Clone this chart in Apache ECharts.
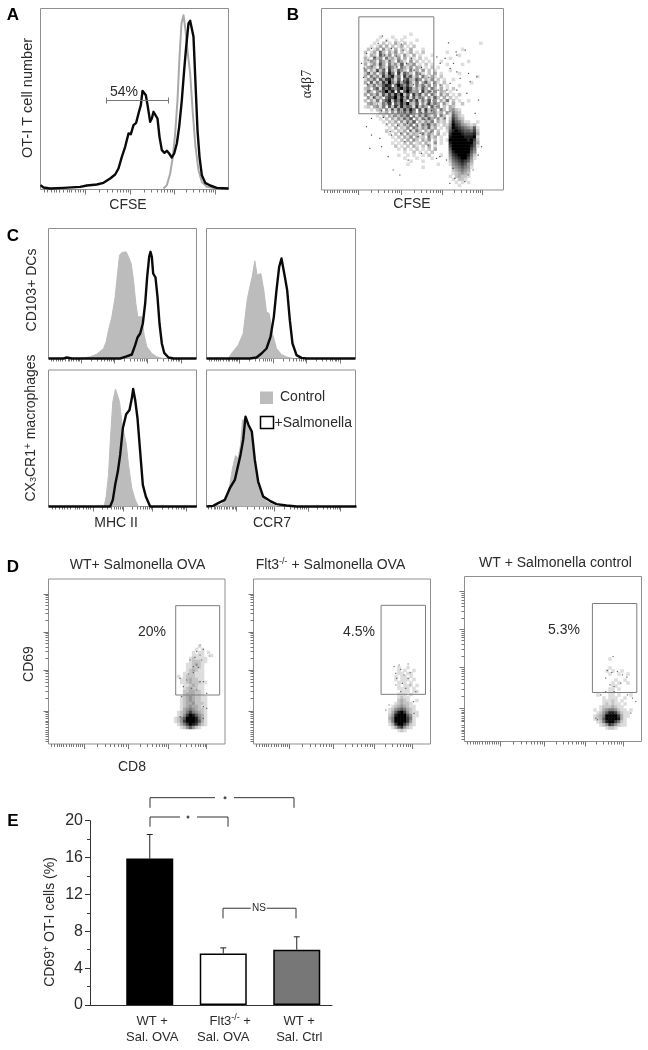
<!DOCTYPE html>
<html><head><meta charset="utf-8">
<style>html,body{margin:0;padding:0;background:#fff}#c{width:648px;height:1050px;filter:blur(0.45px)}</style>
<script src="https://cdn.jsdelivr.net/npm/echarts@6/dist/echarts.min.js"></script>
</head><body><div id="c"></div>
<script>
// ---------- Histogram values: [channel, count] ----------
const aBlack=[[0,10],[9,3],[29,0],[69,2],[119,5],[139,9],[169,12],[189,17],[209,30],[224,42],[234,60],[244,95],[254,125],[264,165],[271,163],[279,190],[287,197],[294,225],[301,250],[306,293],[311,297],[316,280],[322,245],[329,200],[334,210],[339,230],[345,235],[351,210],[357,155],[364,115],[372,107],[379,113],[386,105],[394,93],[401,105],[409,135],[416,185],[424,265],[431,355],[437,425],[444,495],[449,503],[454,503],[459,455],[465,315],[471,175],[477,95],[484,40],[494,17],[509,9],[529,2],[564,0]];
const aGray=[[369,0],[379,10],[389,45],[397,95],[404,165],[411,265],[417,395],[423,495],[429,520],[435,475],[442,405],[449,345],[457,225],[465,125],[474,55],[484,20],[499,5],[529,0]];
const cTLgray=[[95,0],[125,5],[145,13],[165,30],[173,50],[180,85],[190,125],[200,185],[207,255],[213,310],[220,318],[233,320],[240,305],[248,285],[255,235],[262,165],[268,125],[280,125],[287,70],[295,35],[310,15],[325,5],[345,0]];
const cTLblack=[[0,0],[45,0],[55,3],[70,0],[215,0],[230,5],[250,12],[260,40],[267,63],[275,75],[283,105],[290,165],[296,245],[302,305],[306,320],[310,305],[314,255],[321,243],[327,185],[333,105],[340,45],[347,17],[360,3],[375,0],[444,0]];
const cTRgray=[[65,0],[75,15],[95,40],[110,75],[122,175],[130,215],[137,245],[145,293],[152,250],[163,255],[172,205],[180,140],[188,135],[198,75],[210,30],[225,12],[240,5],[260,0]];
const cTRblack=[[0,0],[130,0],[150,3],[165,15],[180,30],[192,65],[202,125],[210,205],[218,275],[225,300],[230,300],[235,245],[242,205],[250,115],[258,45],[270,10],[285,2],[300,0],[447,0]];
const cBLgray=[[167,0],[173,30],[180,95],[187,225],[193,315],[201,353],[207,353],[213,315],[221,245],[233,190],[240,125],[250,55],[260,20],[270,0]];
const cBLblack=[[0,0],[185,0],[193,20],[200,65],[208,105],[215,155],[223,235],[233,277],[243,290],[250,325],[254,353],[260,320],[267,265],[275,165],[283,65],[292,30],[305,0],[445,0]];
const cBRgray=[[20,0],[45,5],[60,25],[70,65],[78,115],[87,153],[95,145],[102,185],[108,260],[115,260],[122,245],[135,215],[145,125],[160,45],[180,15],[210,0]];
const cBRblack=[[0,0],[20,2],[35,10],[55,20],[70,55],[85,80],[102,155],[110,200],[117,270],[121,273],[126,245],[136,225],[145,140],[155,75],[170,30],[190,17],[210,7],[240,3],[270,0],[450,0]];

// ---------- Density (0 = empty, 9 = solid black), rows from the top ----------
const bDensity=[
"0000000000000001000000000000000000000000","0000010001000100000000000000000000000000","0000100100101000010000000000000000000000","0001002010310201000000000000000000000010",
"0010130302013010200000000000000000000000","0201304120302103000100000000000010000000","2013052031402013010200000001000000000000","1032063140320410301000100000000100000000",
"3105240523140302102010000000100000000000","2143053142053104020101000100000000100000","3024163052416032401020100001000010000000","1342053164205314032010201000000000000000",
"4031625073164205130402010000100000000000","2514036285071642053102030100000100000000","3052417368250736140520310200000000000100","1425063784160573264031402010010000000000",
"3061527495273684150362041020000000010000","0425136870596473052514030201000100000000","2304617586479586241630520301020000000000","1520436958071695340725140320100000000000",
"3042516374859260736140520413010200000000","0415230576948371625304162030201000000000","2031504682759406371526040315020100100000","0342015370648593260417253041030020000000",
"1203415062738465172530614020320000000000","0010230415263748506172430520342100000000","0000021304152637405162341304153200000000","0000102031425360415263140520164210000000",
"0000010203142536041526304130275320000000","0000001021304152603142503120386531100100","0000000102031425041536241021497643212000","0000000010302140531426130102598765436100",
"0000000201021304152031402001689876657200","0000000010203041320514203010799987778300","0000000001020314031205130100899998889100","0000000000102030420314020101999999897200",
"0000000001010203012031040100899999996300","0000000000201020310203010000799999986100","0000000000010201020102030000699999975000","0000000000000100201010200000589999964000",
"0000000000010010100102000100478999852000","0000000000000100010000100000367899741000","0000000000000001000100000000256787630000","0000000000000010000000001000145676420000",
"0000000000000000000100000000034565410000","0000000000000000000000000000023454300000","0000000000000000000000000000012343200000","0000000000000000000000000000102322100000",
"0000000000000000000000000000010221000000","0000000000000000000000000000001010100000","0000000000000000000000000000000100000000"];
const d1Density=["000000000100000","000000001010000","000000010110100","000000011110010","000000121111000","000000122211000","000001123210000","000001122210000","000001232110000","000011221110000","001012221110000","000112322110000","000112322211000","000011232110000","000012322110000","000022332210000","000023332210000","000123432211000","000123432211000","000123342221000","000123433211000","000134543221000","001235754321000","001247986431000","012469998531000","012479998631000","001357987421000","000124642100000"];
const d2Density=["000000000000000","000000000000000","000000000000000","000000000000000","000000000000000","000000000000000","000000000000000","000000100100000","000000101001000","000000110110000","000001011010000","000001011101000","000000111010000","000000101110100","000000111101000","000000011101100","000000111010000","000000121100000","000000232100100","000001232210000","000012343211000","000124565321000","000136897421100","000248999641100","000359999751000","000259999741000","000137997521000","000013674210000","000000121000000"];
const d3Density=["000000000000000","000000000000000","000000000000000","000000000000000","000000100000000","000000000000000","000000000000000","000000100000000","000001010010000","000000100100100","000000000000000","000000001001000","000000010100100","000000011000000","000000110100000","000000110000000","001000110100010","000010111001000","000011121010000","000012121101000","000122232110000","010134554211010","001246887421100","012359999731100","012369999831000","001258997521000","000124764211000","000001221000000"];

// ---------- Individual dots: [channel, channel] ----------
const bDots=[[183,462],[170,440],[195,448],[240,438],[150,425],[210,425],[175,415],[245,420],[135,410],[190,405],[160,398],[225,402],[270,395],[140,390],[120,380],[205,388],[175,378],[255,380],[300,368],[128,366],[152,372],[188,362],[226,370],[278,360],[144,352],[168,356],[206,346],[236,352],[262,340],[296,348],[126,338],[158,336],[182,330],[214,334],[246,328],[284,330],[322,338],[138,318],[170,316],[194,312],[224,318],[256,310],[276,316],[310,312],[336,320],[146,298],[176,296],[206,300],[238,292],[266,298],[298,290],[328,296],[350,300],[156,278],[186,282],[216,274],[246,280],[272,270],[304,276],[334,268],[168,258],[198,262],[228,254],[258,260],[288,252],[316,258],[344,250],[180,238],[212,242],[240,234],[268,240],[300,232],[330,238],[186,218],[216,222],[248,214],[278,220],[310,212],[340,216],[196,198],[228,194],[258,200],[288,192],[318,198],[206,176],[238,170],[266,178],[296,170],[328,174],[145,125],[180,130],[200,100],[215,60],[235,45],[260,90],[300,110],[345,95],[355,100],[320,135],[290,160],[250,145],[210,165],[175,155],[150,165],[135,190],[150,215],[370,215],[385,235],[381,442],[404,415],[431,420],[406,405],[371,395],[346,400],[356,380],[386,365],[396,380],[441,350],[466,340],[446,325],[416,335],[406,355],[471,270],[461,230],[436,290],[406,300],[386,320],[376,300],[356,315],[385,20],[400,35],[430,25],[440,45],[395,65],[375,90],[455,60],[470,105],[480,130]];
const d1Dots=[[455,297],[465,284],[445,277],[455,267],[483,264],[440,260],[460,252],[425,252],[445,237],[435,232],[450,230],[420,210],[435,214],[395,197],[455,187],[415,192],[465,187],[405,172],[445,162],[430,167],[475,152],[400,142],[465,112],[475,107],[395,82],[465,77]];
const d2Dots=[[436,237],[463,240],[421,232],[441,224],[426,212],[469,214],[451,207],[429,197],[463,197],[446,182],[469,177],[426,177],[456,167],[486,157],[441,157],[479,127],[481,92],[396,102],[406,117]];
const d3Dots=[[445,255],[428,213],[441,207],[458,210],[473,200],[486,193],[423,190],[448,165],[436,170],[468,175],[423,150],[448,150],[408,140],[503,130],[488,140],[398,65],[393,70],[498,85],[513,120]];

// ---------- Gates [xMin, xMax, yMin, yMax] ----------
const bGate=[112,337,229,520], d1Gate=[382,514,147,415], d2Gate=[382,515,149,416], d3Gate=[383,516,147,414];

// ---------- Bar panel ----------
const barCategories=['{p|WT +}\n{p|Sal. OVA}','{f|Flt3}{s|-/-} +\nSal. OVA','{p|WT +}\n{p|Sal. Ctrl}'];
const barValues=[15.9,5.6,6.0];
const barUpper=[18.5,6.2,7.4];
const barColors=['#000000','#ffffff','#777777'];
const barTicks=[0,4,8,12,16,20];

const INK='#2b2b2b', BOX='#8f8f8f', TICK='#777777', FONT='"Liberation Sans",Arial,sans-serif';
const cluster=[.075,.15,.25,.3,.35,.425,.5,.6,.65,.7,.775,.85,.9,.95,1];
function tickSet(decades,axisMax){
  const major=[],minor=[];
  cluster.forEach(f=>minor.push(f*decades[0]*axisMax));
  decades.forEach((d,i)=>{
    major.push(d*axisMax);
    if(i<decades.length-1){[2,3,4,5,6,7,8,9].forEach(k=>minor.push((d+(decades[i+1]-d)*Math.log10(k))*axisMax));}
  });
  return {major,minor};
}
const grids=[],xAxes=[],yAxes=[],series=[],heatSeries=[];
function valueAxis(gi,max,min,pos,custom,len){
  return {type:'value',gridIndex:gi,min:min,max:max,position:pos,show:true,splitLine:{show:false},
    axisLine:{show:false,onZero:false},axisLabel:{show:false},
    axisTick:{show:!!custom,length:len,inside:false,customValues:custom||[],lineStyle:{color:TICK,width:1}}};
}
function panel(box,xMax,yMax,xDec,yDec,yMin){
  const g=grids.length;
  grids.push({left:box[0],top:box[1],width:box[2],height:box[3],show:true,borderColor:BOX,borderWidth:1,backgroundColor:'transparent',containLabel:false});
  const xi=xAxes.length, yi=yAxes.length;
  const xt=tickSet(xDec,xMax);
  xAxes.push(valueAxis(g,xMax,0,'bottom',xt.major,5));
  xAxes.push(valueAxis(g,xMax,0,'bottom',xt.minor,3));
  const yt=yDec?tickSet(yDec,yMax):null;
  yAxes.push(valueAxis(g,yMax,yMin||0,'left',yt?yt.major:null,5));
  if(yt) yAxes.push(valueAxis(g,yMax,yMin||0,'left',yt.minor,3));
  return {g,xi,yi};
}
function line(p,data,color,width,z){
  series.push({type:'line',xAxisIndex:p.xi,yAxisIndex:p.yi,data:data,showSymbol:false,symbol:'none',clip:false,silent:true,z:z||5,
    lineStyle:{color:color,width:width,cap:'butt',join:'round'}});
}
function area(p,data){
  series.push({type:'line',xAxisIndex:p.xi,yAxisIndex:p.yi,data:data,showSymbol:false,symbol:'none',clip:true,silent:true,z:3,
    lineStyle:{color:'#bcbcbc',width:1},areaStyle:{color:'#bcbcbc',opacity:1}});
}
function gate(p,r){line(p,[[r[0],r[2]],[r[1],r[2]],[r[1],r[3]],[r[0],r[3]],[r[0],r[2]]],'#7d7d7d',1,6);}
function dots(p,data,size,color){
  series.push({type:'scatter',xAxisIndex:p.xi,yAxisIndex:p.yi,data:data,symbol:'rect',symbolSize:size,silent:true,z:4,
    itemStyle:{color:color}});
}
function density(p,rows,cols,nRows,startCol,startRow){
  const xi=xAxes.length, yi=yAxes.length, names=n=>Array.from({length:n},(_,i)=>String(i));
  xAxes.push({type:'category',gridIndex:p.g,data:names(cols),show:false});
  yAxes.push({type:'category',gridIndex:p.g,data:names(nRows),show:false,inverse:true});
  const data=[];
  rows.forEach((row,r)=>{[...row].forEach((ch,c)=>{if(ch!=='0')data.push([c+startCol,r+startRow,+ch]);});});
  heatSeries.push(series.length);
  series.push({type:'heatmap',xAxisIndex:xi,yAxisIndex:yi,data:data,silent:true,z:2,progressive:0,itemStyle:{borderWidth:0}});
}

const xdC=[.22,.446,.67,.896];
const BLK='#0a0a0a', BW=2.4;
// A
const pA=panel([40.5,8.5,188,181],564,540,[.237,.48,.71,.93],null,-3);
line(pA,aGray,'#a9a9a9',2,4);
line(pA,aBlack,BLK,BW,5);
line(pA,[[198,264],[384,264]],'#777',1,6);
line(pA,[[198,255],[198,273]],'#777',1,6);
line(pA,[[384,255],[384,273]],'#777',1,6);
// B
const pB=panel([321.5,8.5,182,181.5],546,545,[.2,.44,.665,.885]);
density(pB,bDensity,60,60,14,8);
dots(pB,bDots,1.2,'#222');
gate(pB,bGate);
// C
const pC1=panel([48.5,228.5,148,130],444,390,xdC);
area(pC1,cTLgray); line(pC1,cTLblack,BLK,BW);
const pC2=panel([206.5,228.5,149,130],447,390,xdC);
area(pC2,cTRgray); line(pC2,cTRblack,BLK,BW);
const pC3=panel([48.5,370,148,136.5],444,410,[.3,.505,.7,.93]);
area(pC3,cBLgray); line(pC3,cBLblack,BLK,BW);
const pC4=panel([206.5,370,149,136.5],447,410,[.2,.455,.68,.9]);
area(pC4,cBRgray); line(pC4,cBRblack,BLK,BW);
// D
const ydD=[.2,.45,.68,.91];
const xdD=[.2,.45,.68,.896];
const pD1=panel([48.5,579,176.5,165],530,495,xdD,ydD);
density(pD1,d1Density,59,55,41,22); dots(pD1,d1Dots,1.2,'#444'); gate(pD1,d1Gate);
const pD2=panel([253.5,579,177,165],530,495,xdD,ydD);
density(pD2,d2Density,59,55,42,22); dots(pD2,d2Dots,1.2,'#444'); gate(pD2,d2Gate);
const pD3=panel([464.5,576.5,177,165],530,495,xdD,ydD);
density(pD3,d3Density,59,55,42,23); dots(pD3,d3Dots,1.2,'#444'); gate(pD3,d3Gate);

// E: bars on a category axis, axis frame and brackets on a second, wider axis pair
const gBar=grids.length;
grids.push({left:113,top:820.7,width:220.5,height:184.3,show:false});
const xBar=xAxes.length, yBar=yAxes.length;
xAxes.push({type:'category',gridIndex:gBar,data:barCategories,axisLine:{show:false},axisTick:{show:false},
  axisLabel:{interval:0,margin:8,fontSize:13,lineHeight:16,fontFamily:FONT,color:INK,rich:{
    s:{fontSize:9,padding:[0,0,7,0],fontFamily:FONT,color:INK},
    f:{fontSize:13,padding:[0,0,0,14],fontFamily:FONT,color:INK},
    p:{fontSize:13,padding:[0,0,0,5],fontFamily:FONT,color:INK}}}});
yAxes.push({type:'value',gridIndex:gBar,min:0,max:20,show:false});
series.push({type:'bar',xAxisIndex:xBar,yAxisIndex:yBar,data:barValues.map((v,i)=>({value:v,itemStyle:{color:barColors[i]}})),barWidth:47,silent:true,z:3,
  itemStyle:{borderColor:'#000',borderWidth:1.5}});
series.push({type:'custom',xAxisIndex:xBar,yAxisIndex:yBar,silent:true,z:2,clip:false,
  data:barValues.map((v,i)=>[i,v,barUpper[i]]),
  encode:{x:0,y:[1,2]},
  renderItem:(params,api)=>{
    const lo=api.coord([api.value(0),api.value(1)]), hi=api.coord([api.value(0),api.value(2)]);
    const st={stroke:'#222',lineWidth:1,fill:'none'};
    return {type:'group',children:[
      {type:'line',shape:{x1:lo[0],y1:lo[1],x2:lo[0],y2:hi[1]},style:st},
      {type:'line',shape:{x1:lo[0]-3,y1:hi[1],x2:lo[0]+3,y2:hi[1]},style:st}]};
  }});
const gAxis=grids.length;
grids.push({left:90,top:820.7,width:242,height:184.3,show:false});
const xAx=xAxes.length, yAx=yAxes.length;
xAxes.push({type:'value',gridIndex:gAxis,min:0,max:242,axisLabel:{show:false},axisTick:{show:false},splitLine:{show:false},
  axisLine:{show:true,onZero:false,lineStyle:{color:'#333',width:1}}});
yAxes.push({type:'value',gridIndex:gAxis,min:0,max:20,interval:4,splitLine:{show:false},
  axisLine:{show:true,onZero:false,lineStyle:{color:'#333',width:1}},
  axisTick:{show:true,length:5,lineStyle:{color:'#333'}},
  minorTick:{show:true,splitNumber:2,length:3,lineStyle:{color:'#333'}},
  axisLabel:{fontSize:16,margin:7,fontFamily:FONT,color:INK,customValues:barTicks}});
const pE={g:gAxis,xi:xAx,yi:yAx};
const BR='#333';
line(pE,[[60,21.4],[60,22.5],[125,22.5]],BR,1);
line(pE,[[144,22.5],[204,22.5],[204,21.4]],BR,1);
line(pE,[[60,19.35],[60,20.4],[90,20.4]],BR,1);
line(pE,[[107,20.4],[138,20.4],[138,19.35]],BR,1);
line(pE,[[133,9.4],[133,10.5],[160.7,10.5]],BR,1);
line(pE,[[176.7,10.5],[206,10.5],[206,9.4]],BR,1);
series.push({type:'scatter',xAxisIndex:xAx,yAxisIndex:yAx,clip:false,silent:true,symbol:'circle',symbolSize:3,
  data:[[135,22.5],[98,20.4]],itemStyle:{color:'#222'}});

// Text
function T(text,x,y,o){o=o||{};
  return {type:'text',x:x,y:y,rotation:o.rot?Math.PI/2:0,silent:true,z:20,
    style:{text:text,fontFamily:o.font||FONT,fontSize:o.size||14,fontWeight:o.bold?'bold':'normal',fill:o.fill||INK,
      align:o.align||'center',verticalAlign:'middle',rich:o.rich}};
}
const supRich={s:{fontSize:9,padding:[0,0,7,0],fontFamily:FONT,fill:INK,color:INK},n:{fontSize:14,fontFamily:FONT,fill:INK,color:INK}};
const subRich={b:{fontSize:9,padding:[5,0,0,0],fontFamily:FONT,fill:INK,color:INK},n:{fontSize:14,fontFamily:FONT,fill:INK,color:INK},s:{fontSize:10,padding:[0,0,6,0],fontFamily:FONT,fill:INK,color:INK}};
const letter={size:17,bold:true,fill:'#000'};
const texts=[
  T('A',13,15,letter),T('B',293,15,letter),T('C',13,236,letter),T('D',13,567,letter),T('E',13,821,letter),
  T('OT-I T cell number',28,98,{rot:1,size:14.5}),T('CFSE',128,205),T('54%',124,92),
  T('α4β7',307,84,{rot:1,font:'"Liberation Serif","DejaVu Serif",serif'}),T('CFSE',412,204),
  T('CD103+ DCs',32,290,{rot:1}),
  T('{n|CX}{b|3}{n|CR1}{s|+}{n| macrophages}',31,428,{rot:1,rich:subRich}),
  T('MHC II',116,523),T('CCR7',272,523),
  T('Control',280,397,{align:'left'}),T('+Salmonella',274.5,423,{align:'left'}),
  {type:'rect',shape:{x:260,y:391.5,width:13,height:12.5},style:{fill:'#bcbcbc'},silent:true,z:20},
  {type:'rect',shape:{x:260.5,y:416.5,width:13,height:12},style:{fill:'#fff',stroke:'#000',lineWidth:1.5},silent:true,z:20},
  T('WT+ Salmonella OVA',137.5,565),
  T('{n|Flt3}{s|-/-}{n| + Salmonella OVA}',330.5,565,{rich:supRich}),
  T('WT + Salmonella control',555.5,563),
  T('20%',152,632),T('4.5%',359,632),T('5.3%',564,630),
  T('CD69',29,664,{rot:1}),T('CD8',132,767),
  T('{n|CD69}{s|+}{n| OT-I cells (%)}',50,922,{rot:1,rich:supRich}),
  T('NS',259,908,{size:10})
];

const chart=echarts.init(document.getElementById('c'),null,{renderer:'canvas',width:648,height:1050});
chart.setOption({
  animation:false,backgroundColor:'#fff',tooltip:{show:false},
  grid:grids,xAxis:xAxes,yAxis:yAxes,
  visualMap:{show:false,type:'continuous',min:1,max:9,dimension:2,seriesIndex:heatSeries,inRange:{color:['#dddddd','#7a7a7a','#000000']}},
  series:series,graphic:{elements:texts}
});
</script></body></html>
